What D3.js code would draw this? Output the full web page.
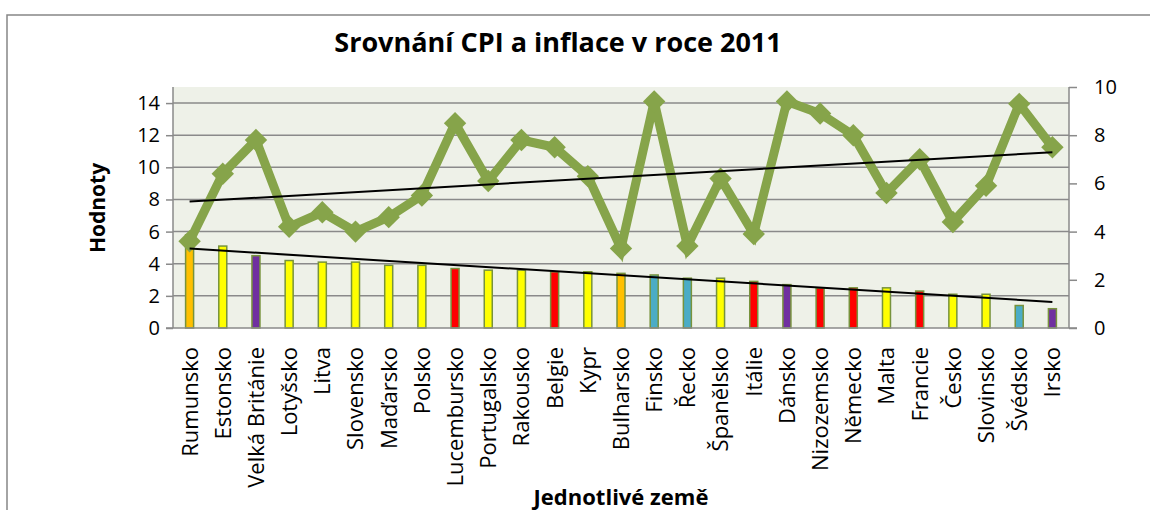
<!DOCTYPE html>
<html>
<head>
<meta charset="utf-8">
<script src="https://cdn.jsdelivr.net/npm/d3@7"></script>
<style>
  body { margin: 0; background: #fff; }
  svg { display: block; font-family: "Open Sans", sans-serif; }
</style>
</head>
<body>
<svg id="chart" width="1150" height="510"></svg>
<script>
// data
const countries = ["Rumunsko", "Estonsko", "Velká Británie", "Lotyšsko", "Litva", "Slovensko", "Maďarsko",
  "Polsko", "Lucembursko", "Portugalsko", "Rakousko", "Belgie", "Kypr", "Bulharsko", "Finsko", "Řecko",
  "Španělsko", "Itálie", "Dánsko", "Nizozemsko", "Německo", "Malta", "Francie", "Česko", "Slovinsko",
  "Švédsko", "Irsko"];
const inflation = [5.8, 5.1, 4.5, 4.2, 4.1, 4.1, 3.9, 3.9, 3.7, 3.6, 3.6, 3.5, 3.5, 3.4, 3.3, 3.1,
  3.1, 2.9, 2.7, 2.5, 2.5, 2.5, 2.3, 2.1, 2.1, 1.4, 1.2];
const cpi = [3.6, 6.4, 7.8, 4.2, 4.8, 4.0, 4.6, 5.5, 8.5, 6.1, 7.8, 7.5, 6.3, 3.3, 9.4, 3.4,
  6.2, 3.9, 9.4, 8.9, 8.0, 5.6, 7.0, 4.4, 5.9, 9.3, 7.5];
const barGroup = ["O", "Y", "P", "Y", "Y", "Y", "Y", "Y", "R", "Y", "Y", "R", "Y", "O", "T", "T",
  "Y", "R", "P", "R", "R", "Y", "R", "Y", "Y", "T", "P"];
const leftTicks = [0, 2, 4, 6, 8, 10, 12, 14];
const rightTicks = [0, 2, 4, 6, 8, 10];

const svg = d3.select("#chart");
const plot = { left: 173, right: 1069, top: 87, bottom: 328 };

const x = d3.scaleBand().domain(countries).range([plot.left, plot.right]);
const yL = d3.scaleLinear().domain([0, 15]).range([plot.bottom, plot.top]);
const yR = d3.scaleLinear().domain([0, 10]).range([plot.bottom, plot.top]);
const color = d3.scaleOrdinal()
  .domain(["O", "Y", "P", "R", "T"])
  .range(["#ffc000", "#ffff00", "#7030a0", "#ff0000", "#4bacc6"]);
const cx = (d) => x(d) + x.bandwidth() / 2;

// outer chart frame
svg.append("rect")
  .attr("x", 7).attr("y", 15).attr("width", 1160).attr("height", 520)
  .attr("fill", "none").attr("stroke", "#878787").attr("stroke-width", 1.5);

// plot background
svg.append("rect")
  .attr("x", plot.left).attr("y", plot.top)
  .attr("width", plot.right - plot.left).attr("height", plot.bottom - plot.top)
  .attr("fill", "#eef1e8");

// gridlines
svg.append("g").selectAll("line")
  .data(leftTicks.slice(1))
  .join("line")
  .attr("x1", plot.left).attr("x2", plot.right)
  .attr("y1", (d) => yL(d)).attr("y2", (d) => yL(d))
  .attr("stroke", "#8a8a8a").attr("stroke-width", 1.5);

// left axis
const axL = svg.append("g")
  .attr("transform", `translate(${plot.left},0)`)
  .call(d3.axisLeft(yL).tickValues(leftTicks).tickSize(7).tickPadding(6).tickSizeOuter(0));
// right axis
const axR = svg.append("g")
  .attr("transform", `translate(${plot.right},0)`)
  .call(d3.axisRight(yR).tickValues(rightTicks).tickSize(8).tickPadding(17).tickSizeOuter(0));
for (const ax of [axL, axR]) {
  ax.select(".domain").attr("stroke", "#8a8a8a").attr("stroke-width", 1.5)
    .attr("d", `M0,${plot.top}V${plot.bottom}`);
  ax.selectAll(".tick line").attr("stroke", "#8a8a8a").attr("stroke-width", 1.5);
  ax.selectAll(".tick text").attr("font-size", 20).attr("fill", "#000")
    .attr("font-family", "Open Sans, sans-serif");
}

// bars (inflation, left axis)
svg.append("g").selectAll("rect")
  .data(countries)
  .join("rect")
  .attr("x", (d) => cx(d) - 4)
  .attr("width", 8)
  .attr("y", (d, i) => yL(inflation[i]))
  .attr("height", (d, i) => yL(0) - yL(inflation[i]))
  .attr("fill", (d, i) => color(barGroup[i]))
  .attr("stroke", "#77933c").attr("stroke-width", 1.5);

// category axis
const axB = svg.append("g")
  .attr("transform", `translate(0,${plot.bottom})`)
  .call(d3.axisBottom(x).tickSize(0).tickPadding(0));
axB.select(".domain").attr("stroke", "#8a8a8a").attr("stroke-width", 1.5)
  .attr("d", `M${plot.left - 7},0H${plot.right + 8}`);
axB.selectAll(".tick text")
  .attr("font-size", 22).attr("fill", "#000")
  .attr("font-family", "Open Sans, sans-serif")
  .attr("text-anchor", "end")
  .attr("transform", "rotate(-90)")
  .attr("x", -19).attr("y", 0).attr("dy", "0.36em");

// linear trendline helper
function trend(vals, scale) {
  const n = vals.length;
  const xs = d3.range(1, n + 1);
  const mx = d3.mean(xs), my = d3.mean(vals);
  const b = d3.sum(xs, (v, i) => (v - mx) * (vals[i] - my)) / d3.sum(xs, (v) => (v - mx) ** 2);
  const a = my - b * mx;
  return [
    [cx(countries[0]), scale(a + b * 1)],
    [cx(countries[n - 1]), scale(a + b * n)]
  ];
}

// CPI line (right axis)
const lineGen = d3.line().x((d) => cx(d)).y((d, i) => yR(cpi[i]));
svg.append("path")
  .datum(countries)
  .attr("d", lineGen)
  .attr("fill", "none").attr("stroke", "#86a44a").attr("stroke-width", 9)
  .attr("stroke-linejoin", "miter");

svg.append("g").selectAll("path")
  .data(countries)
  .join("path")
  .attr("d", d3.symbol(d3.symbolDiamond2, 320))
  .attr("transform", (d, i) => `translate(${cx(d)},${yR(cpi[i])})`)
  .attr("fill", "#86a44a");

// trendlines
svg.append("path")
  .attr("d", d3.line()(trend(inflation, yL)))
  .attr("stroke", "#000").attr("stroke-width", 2).attr("fill", "none");
svg.append("path")
  .attr("d", d3.line()(trend(cpi, yR)))
  .attr("stroke", "#000").attr("stroke-width", 2).attr("fill", "none");

// titles
svg.append("text")
  .attr("x", 558).attr("y", 52)
  .attr("text-anchor", "middle")
  .attr("font-size", 27).attr("font-weight", "bold")
  .text("Srovnání CPI a inflace v roce 2011");

svg.append("text")
  .attr("transform", "translate(105,208) rotate(-90)")
  .attr("text-anchor", "middle")
  .attr("font-size", 21).attr("font-weight", "bold")
  .text("Hodnoty");

svg.append("text")
  .attr("x", 621).attr("y", 505)
  .attr("text-anchor", "middle")
  .attr("font-size", 22).attr("font-weight", "bold")
  .text("Jednotlivé země");
</script>
</body>
</html>
